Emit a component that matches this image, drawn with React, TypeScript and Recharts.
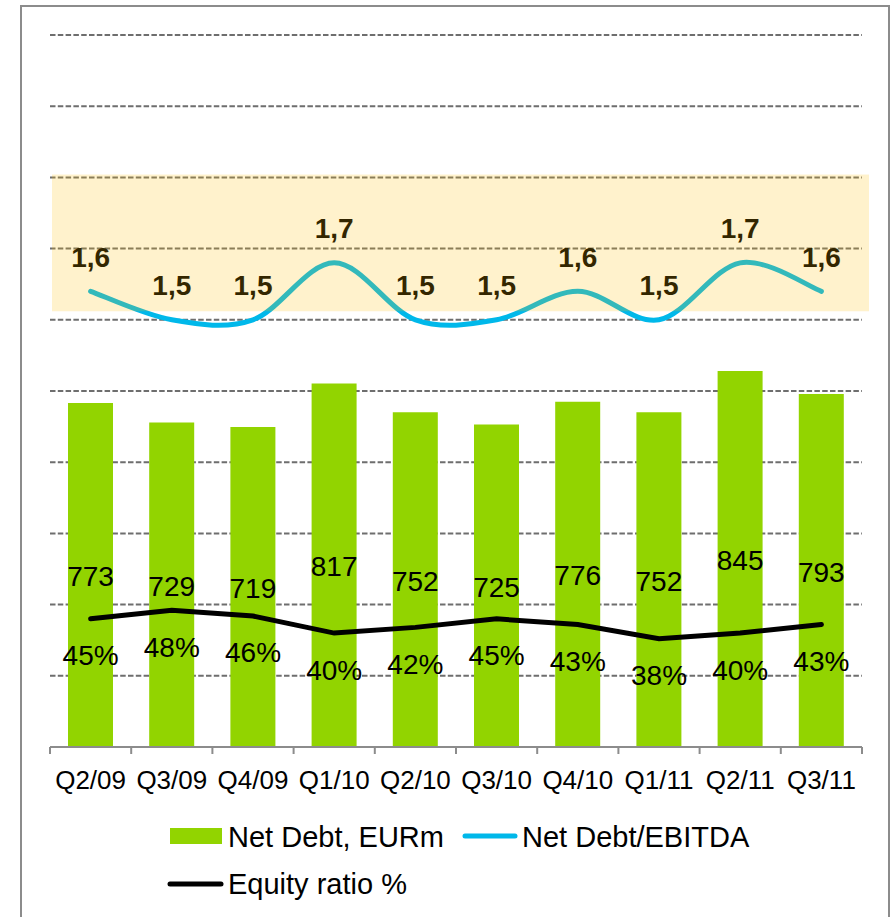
import React from "react";
import {
  Bar,
  CartesianGrid,
  ComposedChart,
  LabelList,
  Legend,
  Line,
  ReferenceArea,
  XAxis,
  YAxis,
} from "recharts";

const quarters = ["Q2/09", "Q3/09", "Q4/09", "Q1/10", "Q2/10", "Q3/10", "Q4/10", "Q1/11", "Q2/11", "Q3/11"];
const netDebt = [773, 729, 719, 817, 752, 725, 776, 752, 845, 793];
const netDebtEbitda = [1.6, 1.5, 1.5, 1.7, 1.5, 1.5, 1.6, 1.5, 1.7, 1.6];
const equityRatio = [0.45, 0.48, 0.46, 0.4, 0.42, 0.45, 0.43, 0.38, 0.4, 0.43];
const leftTicks = [0, 160, 320, 480, 640, 800, 960, 1120, 1280, 1440, 1600];
const targetBand = [1.53, 2.01];

const rows = quarters.map((q, i) => ({
  q,
  netDebt: netDebt[i],
  ebitda: netDebtEbitda[i],
  equity: equityRatio[i],
}));

const W = 891;
const H = 917;
const MARGIN = { top: 35, right: 29, bottom: 120, left: 50 };
const BAND = (W - MARGIN.left - MARGIN.right) / quarters.length;
const FONT = '"Liberation Sans", Arial, sans-serif';
const GREEN = "#92D400";
const CYAN = "#00B8EA";

// Excel-style smoothed line (Catmull-Rom through every point)
function excelSmooth(context: any) {
  let pts: [number, number][] = [];
  return {
    areaStart() {},
    areaEnd() {},
    lineStart() {
      pts = [];
    },
    lineEnd() {
      const n = pts.length;
      if (!n) return;
      context.moveTo(pts[0][0], pts[0][1]);
      for (let i = 0; i < n - 1; i++) {
        const p0 = pts[Math.max(i - 1, 0)];
        const p1 = pts[i];
        const p2 = pts[i + 1];
        const p3 = pts[Math.min(i + 2, n - 1)];
        context.bezierCurveTo(
          p1[0] + (p2[0] - p0[0]) / 6,
          p1[1] + (p2[1] - p0[1]) / 6,
          p2[0] - (p3[0] - p1[0]) / 6,
          p2[1] - (p3[1] - p1[1]) / 6,
          p2[0],
          p2[1]
        );
      }
    },
    point(x: number, y: number) {
      pts.push([+x, +y]);
    },
  };
}

const QuarterTick = (props: any) => {
  const { x, y, payload, index } = props;
  return (
    <g>
      <line x1={x - BAND / 2} x2={x - BAND / 2} y1={y - 7} y2={y} stroke="#8c8c8c" strokeWidth={2} />
      {index === quarters.length - 1 && (
        <line x1={x + BAND / 2} x2={x + BAND / 2} y1={y - 7} y2={y} stroke="#8c8c8c" strokeWidth={2} />
      )}
      <text x={x} y={y + 35} textAnchor="middle" fontSize={26} fontFamily={FONT} fill="#000">
        {payload.value}
      </text>
    </g>
  );
};

const barLabel = (props: any) => {
  const { x, y, width, height, value } = props;
  return (
    <text x={x + width / 2} y={y + height / 2 + 1.5} textAnchor="middle" dominantBaseline="central" fontSize={28} fontFamily={FONT} fill="#000">
      {value}
    </text>
  );
};

const ebitdaLabel = (props: any) => {
  const { x, y, value } = props;
  return (
    <text x={x} y={y - 34} textAnchor="middle" dominantBaseline="central" fontSize={28} fontWeight="bold" fontFamily={FONT} fill="#000">
      {Number(value).toFixed(1).replace(".", ",")}
    </text>
  );
};

const equityLabel = (props: any) => {
  const { x, y, value } = props;
  return (
    <text x={x} y={y + 37} textAnchor="middle" dominantBaseline="central" fontSize={28} fontFamily={FONT} fill="#000">
      {Math.round(value * 100)}%
    </text>
  );
};

const ChartLegend = (props: any) => {
  const items: any[] = props.payload || [];
  const find = (key: string) => items.find((p) => p.dataKey === key);
  const bar = find("netDebt");
  const eb = find("ebitda");
  const eq = find("equity");
  return (
    <svg width={W} height={110} style={{ display: "block" }}>
      <g fontFamily={FONT} fontSize={29} fill="#000">
        {bar && (
          <g>
            <rect x={170} y={31} width={52} height={16} fill={GREEN} />
            <text x={228} y={50}>{bar.value}</text>
          </g>
        )}
        {eb && (
          <g>
            <line x1={465} x2={515} y1={39} y2={39} stroke={CYAN} strokeWidth={5} strokeLinecap="round" />
            <text x={522} y={50}>{eb.value}</text>
          </g>
        )}
        {eq && (
          <g>
            <line x1={170} x2={221} y1={87} y2={87} stroke="#000" strokeWidth={5} strokeLinecap="round" />
            <text x={228} y={97}>{eq.value}</text>
          </g>
        )}
      </g>
    </svg>
  );
};

export default function App() {
  return (
    <div style={{ position: "absolute", left: 0, top: 0, width: W, height: H, background: "#fff", overflow: "hidden" }}>
      <div
        style={{
          position: "absolute",
          left: 20,
          top: 5,
          width: 866,
          height: 960,
          border: "2px solid #8c8c8c",
        }}
      />
      <div style={{ position: "absolute", left: 0, top: 0 }}>
        <ComposedChart width={W} height={H} data={rows} margin={MARGIN}>
          <CartesianGrid yAxisId="left" vertical={false} stroke="#6e6e6e" strokeWidth={2} strokeDasharray="5.5 2.3" />
          <XAxis
            dataKey="q"
            height={50}
            axisLine={{ stroke: "#8c8c8c", strokeWidth: 2 }}
            tickLine={false}
            tickSize={7}
            tickMargin={0}
            interval={0}
            tick={<QuarterTick />}
          />
          <YAxis yAxisId="left" hide domain={[0, 1600]} ticks={leftTicks} />
          <YAxis yAxisId="right" orientation="right" hide domain={[0, 2.5]} />
          <Bar yAxisId="left" dataKey="netDebt" name="Net Debt, EURm" fill={GREEN} barSize={45} isAnimationActive={false}>
            <LabelList dataKey="netDebt" content={barLabel} />
          </Bar>
          <Line
            yAxisId="right"
            dataKey="ebitda"
            name="Net Debt/EBITDA"
            type={excelSmooth as any}
            stroke={CYAN}
            strokeWidth={5}
            strokeLinecap="round"
            dot={false}
            activeDot={false}
            label={ebitdaLabel}
            isAnimationActive={false}
          />
          <Line
            yAxisId="right"
            dataKey="equity"
            name="Equity ratio %"
            type="linear"
            stroke="#000"
            strokeWidth={5}
            strokeLinecap="round"
            dot={false}
            activeDot={false}
            label={equityLabel}
            isAnimationActive={false}
          />
          <ReferenceArea
            yAxisId="right"
            y1={targetBand[0]}
            y2={targetBand[1]}
            fill="#FFC000"
            fillOpacity={0.2}
            stroke="none"
            zIndex={3000}
            shape={(p: any) => <rect x={p.x + 2} y={p.y} width={p.width + 5} height={p.height} fill="#FFC000" fillOpacity={0.2} />}
          />
          <Legend
            layout="horizontal"
            verticalAlign="middle"
            align="center"
            wrapperStyle={{ left: 0, top: 797, width: W, height: 110 }}
            content={<ChartLegend />}
          />
        </ComposedChart>
      </div>
    </div>
  );
}
